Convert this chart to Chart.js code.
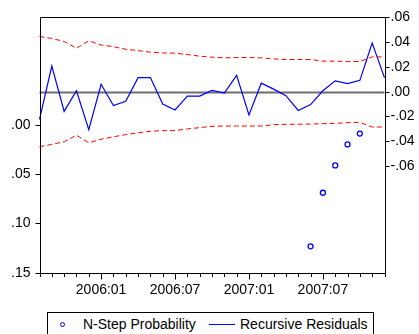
<!DOCTYPE html>
<html>
<head>
<meta charset="utf-8">
<script src="https://cdn.jsdelivr.net/npm/chart.js@4.4.1/dist/chart.umd.min.js"></script>
<style>
  html, body { margin: 0; padding: 0; background: #fff; }
  #wrap { position: relative; width: 419px; height: 334px; overflow: hidden; }
  #c { position: absolute; left: 0; top: 0; }
  #legend {
    position: absolute; left: 47px; top: 312px; width: 327px; height: 26px;
    border: 1px solid #000; box-sizing: border-box; background: #fff;
    font-family: "Liberation Sans", Arial, sans-serif; font-size: 14px; color: #000;
  }
  #legend .mk { position: absolute; left: 12px; top: 9px; width: 5px; height: 5px;
    border: 1.3px solid #0000ff; border-radius: 50%; box-sizing: border-box; }
  #legend .t1 { position: absolute; left: 35px; top: 3px; white-space: nowrap; }
  #legend .ln { position: absolute; left: 161px; top: 11px; width: 26px; height: 0;
    border-top: 1px solid #0000ff; }
  #legend .t2 { position: absolute; left: 192px; top: 3px; white-space: nowrap; }
</style>
</head>
<body>
<div id="wrap">
  <canvas id="c" width="419" height="334"></canvas>
  <div id="legend">
    <span class="mk"></span><span class="t1">N-Step Probability</span>
    <span class="ln"></span><span class="t2">Recursive Residuals</span>
  </div>
</div>
<script>
// Monthly observations, 2005:08 – 2007:12
const months = [
  '2005:08','2005:09','2005:10','2005:11','2005:12',
  '2006:01','2006:02','2006:03','2006:04','2006:05','2006:06',
  '2006:07','2006:08','2006:09','2006:10','2006:11','2006:12',
  '2007:01','2007:02','2007:03','2007:04','2007:05','2007:06',
  '2007:07','2007:08','2007:09','2007:10','2007:11','2007:12'
];
const labeledMonths = ['2006:01', '2006:07', '2007:01', '2007:07'];

// Recursive residuals (right axis)
const residuals = [
  -0.0223, 0.0207, -0.0159, 0.0008, -0.0306,
  0.0060, -0.0112, -0.0077, 0.0114, 0.0114, -0.0099,
  -0.0147, -0.0035, -0.0035, 0.0010, -0.0011, 0.0132,
  -0.0187, 0.0069, 0.0021, -0.0032, -0.0151, -0.0104,
  0.0008, 0.0088, 0.0066, 0.0092, 0.0393, 0.0114
];
// +/- 2 S.E. bands (right axis)
const upperBand = [
  0.0446, 0.0430, 0.0406, 0.0351, 0.0411,
  0.0377, 0.0363, 0.0343, 0.0332, 0.0319, 0.0313,
  0.0311, 0.0300, 0.0287, 0.0279, 0.0273, 0.0276,
  0.0276, 0.0273, 0.0265, 0.0260, 0.0260, 0.0260,
  0.0247, 0.0247, 0.0244, 0.0244, 0.0281, 0.0281
];
const lowerBand = [
  -0.0444, -0.0425, -0.0404, -0.0351, -0.0412,
  -0.0383, -0.0364, -0.0346, -0.0332, -0.0319, -0.0314,
  -0.0314, -0.0300, -0.0290, -0.0279, -0.0277, -0.0277,
  -0.0277, -0.0277, -0.0266, -0.0263, -0.0263, -0.0261,
  -0.0258, -0.0255, -0.0250, -0.0247, -0.0285, -0.0285
];
// N-step probabilities (left axis); only values up to .15 are plotted
const nStepProb = [
  null, null, null, null, null,
  null, null, null, null, null, null,
  null, null, null, null, null, null,
  null, null, null, null, null, 0.1233,
  0.0690, 0.0413, 0.0200, 0.0090, null, null
];

const leftTicks = [0, 0.05, 0.10, 0.15];
const rightTicks = [0.06, 0.04, 0.02, 0.00, -0.02, -0.04, -0.06];

const FONT = { family: '"Liberation Sans", Arial, sans-serif', size: 14 };
const fmt = v => {
  const s = Math.abs(v).toFixed(2).replace(/^0/, '');
  return (v < -1e-9 ? '-' : '') + s;
};

// Frame, zero line and tick marks in the EViews style
const framePlugin = {
  id: 'frame',
  beforeDatasetsDraw(chart) {
    const { ctx, chartArea: a, scales } = chart;
    const y0 = Math.round(scales.yR.getPixelForValue(0)) + 0.5;
    ctx.save();
    ctx.strokeStyle = '#6e6e6e';
    ctx.lineWidth = 2;
    ctx.beginPath();
    ctx.moveTo(a.left, y0);
    ctx.lineTo(a.right, y0);
    ctx.stroke();
    ctx.restore();
  },
  afterDraw(chart) {
    const { ctx, chartArea: a, scales } = chart;
    const L = Math.round(a.left) + 0.5, R = Math.round(a.right) + 0.5;
    const T = Math.round(a.top) + 0.5, B = Math.round(a.bottom) + 0.5;
    ctx.save();
    ctx.strokeStyle = '#000';
    ctx.lineWidth = 1;
    ctx.beginPath();
    ctx.rect(L, T, R - L, B - T);
    // x ticks: every month, longer at labelled months
    months.forEach((m, i) => {
      const x = Math.round(scales.x.getPixelForValue(i)) + 0.5;
      const len = labeledMonths.includes(m) ? 6 : 3.5;
      ctx.moveTo(x, B);
      ctx.lineTo(x, B + len);
    });
    leftTicks.forEach(v => {
      const y = Math.round(scales.yL.getPixelForValue(v)) + 0.5;
      ctx.moveTo(L, y);
      ctx.lineTo(L - 5, y);
    });
    rightTicks.forEach(v => {
      const y = Math.round(scales.yR.getPixelForValue(v)) + 0.5;
      ctx.moveTo(R, y);
      ctx.lineTo(R + 4, y);
    });
    ctx.stroke();
    ctx.restore();
  }
};

new Chart(document.getElementById('c'), {
  type: 'line',
  data: {
    labels: months,
    datasets: [
      {
        label: 'Upper band', data: upperBand, yAxisID: 'yR',
        borderColor: '#ff0000', borderWidth: 1, borderDash: [5, 3],
        pointRadius: 0, tension: 0, fill: false
      },
      {
        label: 'Lower band', data: lowerBand, yAxisID: 'yR',
        borderColor: '#ff0000', borderWidth: 1, borderDash: [5, 3],
        pointRadius: 0, tension: 0, fill: false
      },
      {
        label: 'Recursive Residuals', data: residuals, yAxisID: 'yR',
        borderColor: '#0000ff', borderWidth: 1.2,
        pointRadius: 0, tension: 0, fill: false
      },
      {
        label: 'N-Step Probability', data: nStepProb, yAxisID: 'yL',
        showLine: false, pointRadius: 2.5, pointBorderWidth: 1.3,
        pointBorderColor: '#0000ff', pointBackgroundColor: 'rgba(0,0,0,0)',
        pointStyle: 'circle'
      }
    ]
  },
  options: {
    responsive: false,
    animation: false,
    events: [],
    layout: { padding: { top: 14, left: 0, right: 0, bottom: 0 } },
    plugins: { legend: { display: false }, tooltip: { enabled: false } },
    scales: {
      x: {
        type: 'category', offset: false,
        grid: { display: false, drawTicks: false },
        border: { display: false },
        ticks: {
          autoSkip: false, maxRotation: 0, padding: 9, color: '#000', font: FONT,
          callback(v, i) { return labeledMonths.includes(months[i]) ? months[i] : ''; }
        },
        afterFit(s) { s.height = 61.3; }
      },
      yL: {
        position: 'left', reverse: true, min: -0.1087, max: 0.15,
        grid: { display: false, drawTicks: false },
        border: { display: false },
        afterBuildTicks(s) { s.ticks = leftTicks.map(v => ({ value: v })); },
        ticks: { padding: 9, color: '#000', font: FONT, callback: v => fmt(v) },
        afterFit(s) { s.width = 39.5; }
      },
      yR: {
        position: 'right', min: -0.1461, max: 0.06,
        grid: { display: false, drawTicks: false },
        border: { display: false },
        afterBuildTicks(s) { s.ticks = rightTicks.map(v => ({ value: v })); },
        ticks: { padding: 6, color: '#000', font: FONT, callback: v => fmt(v) },
        afterFit(s) { s.width = 34.5; }
      }
    }
  },
  plugins: [framePlugin]
});
</script>
</body>
</html>
